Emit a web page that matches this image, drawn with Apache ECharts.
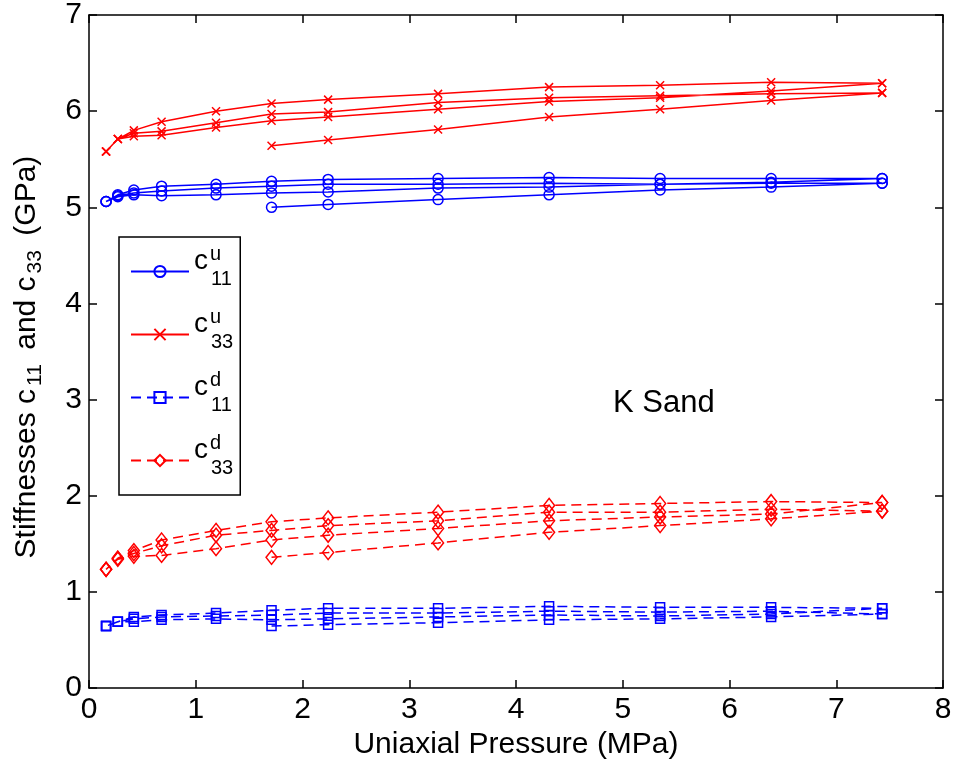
<!DOCTYPE html>
<html>
<head>
<meta charset="utf-8">
<script src="https://cdn.jsdelivr.net/npm/echarts@6/dist/echarts.min.js"></script>
<style>
html,body{margin:0;padding:0;background:#fff;}
#chart{width:955px;height:765px;}
</style>
</head>
<body>
<div id="chart"></div>
<script>
// ---- Data ----
// Pressure steps of the loading path (MPa)
const P_LOAD1 = [1.71, 2.24, 3.27, 4.31, 5.35, 6.39, 7.43];
const P_DOWN  = [7.43, 6.39, 5.35, 4.31, 3.27, 2.24, 1.71, 1.19, 0.68, 0.42, 0.27, 0.16];
const P_UP    = [0.16, 0.27, 0.42, 0.68, 1.19, 1.71, 2.24, 3.27, 4.31, 5.35, 6.39, 7.43];

// c11 undrained (GPa)
const c11u_load1   = [5.00, 5.03, 5.08, 5.13, 5.18, 5.21, 5.25];
const c11u_unload1 = [5.25, 5.25, 5.24, 5.25, 5.24, 5.24, 5.22, 5.20, 5.17, 5.15, 5.12, 5.06];
const c11u_reload  = [5.06, 5.11, 5.13, 5.12, 5.13, 5.15, 5.16, 5.20, 5.21, 5.24, 5.26, 5.30];
const c11u_unload2 = [5.30, 5.30, 5.30, 5.31, 5.30, 5.29, 5.27, 5.24, 5.22, 5.18, 5.13, 5.06];

// c33 undrained (GPa)
const c33u_load1   = [5.64, 5.70, 5.81, 5.94, 6.02, 6.11, 6.19];
const c33u_unload1 = [6.19, 6.18, 6.16, 6.14, 6.09, 5.99, 5.97, 5.88, 5.79, 5.77, 5.71, 5.58];
const c33u_reload  = [5.58, 5.71, 5.74, 5.75, 5.83, 5.90, 5.94, 6.02, 6.10, 6.14, 6.21, 6.29];
const c33u_unload2 = [6.29, 6.30, 6.27, 6.25, 6.18, 6.12, 6.08, 6.00, 5.89, 5.80, 5.71, 5.58];

// c11 drained (GPa)
const c11d_load1   = [0.645, 0.66, 0.68, 0.71, 0.72, 0.74, 0.77];
const c11d_unload1 = [0.77, 0.80, 0.79, 0.80, 0.78, 0.78, 0.76, 0.75, 0.74, 0.72, 0.69, 0.645];
const c11d_reload  = [0.645, 0.69, 0.69, 0.71, 0.72, 0.71, 0.72, 0.74, 0.76, 0.75, 0.77, 0.83];
const c11d_unload2 = [0.83, 0.84, 0.84, 0.85, 0.83, 0.83, 0.81, 0.78, 0.76, 0.74, 0.69, 0.645];

// c33 drained (GPa)
const c33d_load1   = [1.36, 1.41, 1.51, 1.62, 1.69, 1.76, 1.84];
const c33d_unload1 = [1.84, 1.86, 1.83, 1.83, 1.74, 1.69, 1.64, 1.59, 1.48, 1.40, 1.35, 1.235];
const c33d_reload  = [1.235, 1.34, 1.37, 1.38, 1.45, 1.54, 1.59, 1.66, 1.74, 1.78, 1.81, 1.93];
const c33d_unload2 = [1.93, 1.94, 1.92, 1.90, 1.83, 1.77, 1.73, 1.64, 1.54, 1.43, 1.35, 1.235];

const X_TICKS = [0, 1, 2, 3, 4, 5, 6, 7, 8];
const Y_TICKS = [0, 1, 2, 3, 4, 5, 6, 7];

const SERIES_NAMES = ['c11u', 'c33u', 'c11d', 'c33d'];
const LEGEND_SUP = { c11u: 'u', c33u: 'u', c11d: 'd', c33d: 'd' };
const LEGEND_SUB = { c11u: '11', c33u: '33', c11d: '11', c33d: '33' };

// ---- Build ----
const PATH_P = [].concat(P_LOAD1, P_DOWN, P_UP, P_DOWN);
function pathPoints(a, b, c, d) {
  const vals = [].concat(a, b, c, d);
  return PATH_P.map((p, i) => [p, vals[i]]);
}

const FONT = '"Liberation Sans", Arial, Helvetica, sans-serif';
const BLUE = '#0000ff';
const RED = '#ff0000';
const FS = 30;

const chart = echarts.init(document.getElementById('chart'), null, { renderer: 'canvas' });

function axisCommon(show) {
  return {
    axisLine: { show: true, onZero: false, lineStyle: { color: '#000', width: 1.5 } },
    axisTick: { show: true, inside: true, length: 8, lineStyle: { color: '#000', width: 1.5 } },
    splitLine: { show: false },
    axisLabel: show ? { color: '#000', fontSize: FS, fontFamily: FONT, margin: 7 } : { show: false }
  };
}

function lineSeries(name, data, color, symbol, size, dashed) {
  return {
    name: name,
    type: 'line',
    data: data,
    symbol: symbol,
    symbolSize: size,
    showSymbol: true,
    lineStyle: { color: color, width: 1.5, type: dashed ? [10, 6] : 'solid' },
    itemStyle: { color: 'none', borderColor: color, borderWidth: 1.5 },
    emphasis: { disabled: true },
    animation: false
  };
}

const X_PATH = 'path://M0 0L10 10M10 0L0 10';

const option = {
  animation: false,
  backgroundColor: '#fff',
  grid: { left: 86, right: 12, top: 14, bottom: 75, containLabel: false },
  xAxis: [
    Object.assign({
      type: 'value', min: X_TICKS[0], max: X_TICKS[X_TICKS.length - 1], interval: 1, position: 'bottom',
      name: 'Uniaxial Pressure (MPa)', nameLocation: 'middle', nameGap: 40,
      nameTextStyle: { color: '#000', fontSize: FS, fontFamily: FONT }
    }, axisCommon(true)),
    Object.assign({
      type: 'value', min: X_TICKS[0], max: X_TICKS[X_TICKS.length - 1], interval: 1, position: 'top'
    }, axisCommon(false))
  ],
  yAxis: [
    Object.assign({
      type: 'value', min: Y_TICKS[0], max: Y_TICKS[Y_TICKS.length - 1], interval: 1, position: 'left',
      name: '{m|Stiffnesses c}{s|11}{m| and c}{s|33}{e| (GPa)}',
      nameLocation: 'middle', nameGap: 42, nameRotate: 90,
      nameTextStyle: {
        color: '#000', fontFamily: FONT, fontSize: FS,
        rich: {
          m: { fontSize: FS, fontFamily: FONT, color: '#000', verticalAlign: 'middle', lineHeight: 40 },
          e: { fontSize: FS, fontFamily: FONT, color: '#000', verticalAlign: 'middle', lineHeight: 40, padding: [0, 11, 0, 0] },
          s: { fontSize: 21, fontFamily: FONT, color: '#000', verticalAlign: 'middle', lineHeight: 40, padding: [17, 6, 0, 3] }
        }
      }
    }, axisCommon(true)),
    Object.assign({
      type: 'value', min: Y_TICKS[0], max: Y_TICKS[Y_TICKS.length - 1], interval: 1, position: 'right'
    }, axisCommon(false))
  ],
  legend: {
    data: SERIES_NAMES,
    orient: 'vertical',
    left: 119,
    top: 237,
    padding: [7, 7, 7, 11],
    itemWidth: 58,
    itemHeight: 14,
    itemGap: 8,
    borderColor: '#000',
    borderWidth: 1.5,
    backgroundColor: '#fff',
    selectedMode: false,
    formatter: function (name) {
      return '{c|c}{u|' + LEGEND_SUP[name] + '}{s|' + LEGEND_SUB[name] + '}';
    },
    textStyle: {
      color: '#000', fontFamily: FONT, fontSize: 28,
      rich: {
        c: { fontSize: 28, fontFamily: FONT, color: '#000', verticalAlign: 'middle', lineHeight: 55, padding: [0, 2, 21, 0] },
        u: { fontSize: 20, fontFamily: FONT, color: '#000', verticalAlign: 'middle', lineHeight: 55, padding: [0, 0, 35, 0], width: 1 },
        s: { fontSize: 20, fontFamily: FONT, color: '#000', verticalAlign: 'middle', lineHeight: 55, padding: [15, 0, 0, 0] }
      }
    }
  },
  graphic: [
    {
      type: 'text', x: 613, y: 403, silent: true,
      style: { text: 'K Sand', fontSize: 31, fontFamily: FONT, fill: '#000', verticalAlign: 'middle', align: 'left' }
    }
  ],
  series: [
    lineSeries('c11u', pathPoints(c11u_load1, c11u_unload1, c11u_reload, c11u_unload2), BLUE, 'circle', 10, false),
    lineSeries('c33u', pathPoints(c33u_load1, c33u_unload1, c33u_reload, c33u_unload2), RED, X_PATH, 8, false),
    lineSeries('c11d', pathPoints(c11d_load1, c11d_unload1, c11d_reload, c11d_unload2), BLUE, 'rect', 9, true),
    lineSeries('c33d', pathPoints(c33d_load1, c33d_unload1, c33d_reload, c33d_unload2), RED, 'diamond', [11, 14], true)
  ]
};

chart.setOption(option);
</script>
</body>
</html>
